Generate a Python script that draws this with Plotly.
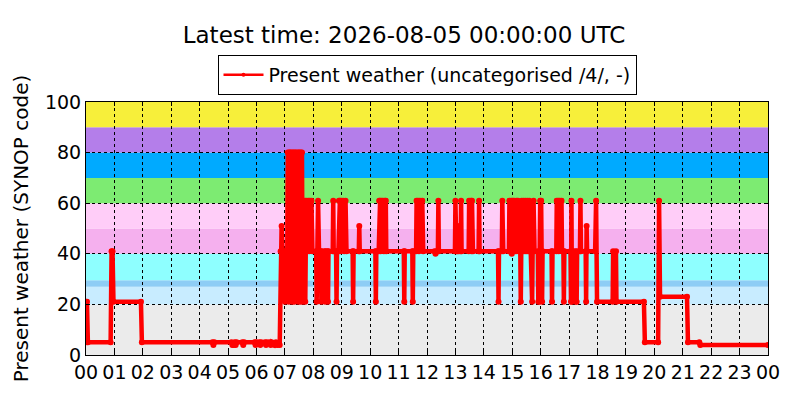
import pandas as pd
import plotly.graph_objects as go

title_text = "Latest time: 2026-08-05 00:00:00 UTC"
series_name = "Present weather (uncategorised /4/, -)"
y_title = "Present weather (SYNOP code)"
day = "2026-08-04"

times = [
    "00:00", "00:02", "00:04", "00:52", "00:54", "00:56", "00:58", "01:56", "01:58",
    "04:27", "04:29", "04:31", "05:07", "05:09", "05:12", "05:14", "05:16", "05:18",
    "05:30", "05:32", "05:34", "05:56", "05:58", "06:00", "06:06", "06:08", "06:10",
    "06:18", "06:20", "06:22", "06:28", "06:30", "06:32", "06:38", "06:41", "06:44",
    "06:49", "06:51", "06:53", "06:55", "06:58", "07:00", "07:02", "07:05",
    "07:06", "07:08", "07:09", "07:11", "07:12", "07:13", "07:15", "07:16", "07:18",
    "07:20", "07:21", "07:23", "07:25", "07:26", "07:28", "07:29", "07:31", "07:33",
    "07:34", "07:36", "07:37", "07:38", "07:39",
    "07:40", "07:42", "07:43", "07:45", "07:49", "07:51", "07:52", "07:56", "07:58",
    "08:06", "08:07", "08:08", "08:10", "08:12", "08:16", "08:17", "08:18", "08:24",
    "08:25", "08:26", "08:30", "08:31", "08:32", "08:41", "08:42", "08:43", "08:48",
    "08:49", "08:50", "08:53", "08:54", "08:56", "08:57", "08:59", "09:03", "09:05",
    "09:08", "09:10", "09:23", "09:24", "09:25", "09:36", "09:37", "09:38",
    "10:11", "10:12", "10:13", "10:18", "10:19", "10:21", "10:22", "10:24", "10:27",
    "10:29", "10:31", "10:33", "10:34", "11:11", "11:12", "11:13", "11:29", "11:30",
    "11:31", "11:37", "11:38", "11:41", "11:43", "11:45", "11:50", "11:52",
    "12:16", "12:18", "12:20", "12:23", "12:24", "12:25", "12:59", "13:00", "13:02",
    "13:04", "13:05", "13:07", "13:11", "13:12", "13:13", "13:28", "13:29", "13:33",
    "13:34", "13:35", "13:37", "13:49", "13:50", "13:51", "14:30", "14:31", "14:32",
    "14:38", "14:39", "14:41", "14:53", "14:54", "14:58", "14:59", "15:01", "15:04",
    "15:05", "15:08", "15:09", "15:12", "15:13", "15:17", "15:18", "15:19", "15:20",
    "15:23", "15:24", "15:27", "15:28", "15:31", "15:32", "15:35", "15:36", "15:39",
    "15:41", "15:42", "15:43", "15:45", "15:47", "15:54", "15:55", "15:57", "15:59",
    "16:01", "16:03", "16:04", "16:23", "16:24", "16:25", "16:33", "16:34", "16:37",
    "16:38", "16:40", "16:44", "16:45", "16:48", "16:49", "16:50", "17:03", "17:04",
    "17:05", "17:06", "17:08", "17:13", "17:14", "17:16", "17:17", "17:23", "17:24",
    "17:25", "17:35", "17:36", "17:37", "17:38", "17:55", "17:57", "17:59",
    "18:32", "18:33", "18:39", "18:40", "19:38", "19:40", "20:08", "20:10", "20:12",
    "21:09", "21:11", "21:35", "21:37", "24:00",
]
values = [
    21, 21, 5, 5, 41, 41, 21, 21, 5,
    5, 4, 5, 5, 4, 4, 5, 4, 5,
    5, 4, 5, 5, 4, 5, 5, 4, 5,
    5, 4, 5, 5, 4, 5, 4, 5, 4,
    4, 41, 51, 41, 41, 21, 41, 41,
    80, 21, 80, 80, 41, 80, 21, 80, 80,
    21, 80, 80, 41, 80, 21, 80, 80, 21,
    80, 80, 41, 21, 41,
    41, 61, 21, 61, 61, 41, 61, 61, 41,
    41, 21, 41, 61, 41, 41, 21, 41, 41,
    21, 41, 41, 21, 41, 41, 61, 41, 41,
    21, 41, 41, 61, 61, 41, 61, 61, 41,
    61, 41, 41, 21, 41, 41, 51, 41,
    41, 21, 41, 41, 61, 61, 41, 61, 61,
    41, 61, 61, 41, 41, 21, 41, 41, 21,
    41, 41, 61, 61, 41, 61, 61, 41,
    41, 40, 41, 41, 61, 41, 41, 61, 41,
    41, 51, 41, 41, 61, 41, 41, 61, 61,
    41, 61, 41, 41, 61, 41, 41, 21, 41,
    41, 61, 41, 41, 61, 61, 40, 61, 61,
    41, 41, 61, 61, 41, 41, 21, 41, 61,
    41, 61, 41, 61, 41, 61, 41, 61, 41,
    41, 21, 41, 61, 41, 41, 21, 21, 61,
    61, 21, 41, 41, 21, 41, 41, 61, 61,
    41, 61, 61, 41, 41, 21, 41, 41, 21,
    61, 21, 41, 41, 21, 21, 41, 41, 61,
    41, 41, 21, 51, 41, 41, 61, 21,
    21, 41, 41, 21, 21, 5, 5, 61, 23,
    23, 5, 5, 4, 4,
]

# background category bands (SYNOP code ranges) and their colours
band_lows = [0, 20, 27, 29.5, 40, 50, 60, 70, 80, 90]
band_highs = [20, 27, 29.5, 40, 50, 60, 70, 80, 90, 100]
band_colors = ["#ebebeb", "#c8ecff", "#8ecdf5", "#8effff", "#f5b0ee",
               "#ffcdf8", "#7deb72", "#00aaff", "#b47eea", "#f7ef3a"]

x_ticks_hours = list(range(0, 25))
x_tick_labels = ["%02d" % (h % 24) for h in x_ticks_hours]

base = pd.Timestamp(day)


def to_ts(s):
    h, m = s.split(":")
    return base + pd.Timedelta(hours=int(h), minutes=int(m))


x = [to_ts(t) for t in times]

fig = go.Figure()
fig.add_trace(go.Scatter(
    x=x, y=values, mode="lines+markers",
    line=dict(color="#ff0000", width=4.5),
    marker=dict(color="#ff0000", size=6),
    showlegend=False,
))
fig.add_trace(go.Scatter(
    x=[None], y=[None], mode="lines+markers", name=series_name,
    line=dict(color="#ff0000", width=2.5),
    marker=dict(color="#ff0000", size=4),
))

shapes = []
for lo, hi, c in zip(band_lows, band_highs, band_colors):
    shapes.append(dict(type="rect", xref="paper", yref="y", x0=0, x1=1, y0=lo, y1=hi,
                       fillcolor=c, line=dict(width=0), layer="below"))

fig.update_layout(
    width=792, height=392,
    margin=dict(l=78, r=32, t=94, b=45, autoexpand=False),
    paper_bgcolor="white", plot_bgcolor="white",
    font=dict(family="DejaVu Sans", color="black", size=19),
    title=dict(text=title_text, x=0.5, xanchor="center", y=0.931, yanchor="middle",
               font=dict(size=23)),
    legend=dict(x=0.5, xanchor="center", y=1.186, yanchor="top", orientation="h",
                bordercolor="black", borderwidth=1, bgcolor="white",
                font=dict(size=19), itemwidth=40),
    shapes=shapes,
)
fig.update_xaxes(
    range=[base, base + pd.Timedelta(hours=24)],
    tickvals=[base + pd.Timedelta(hours=h) for h in x_ticks_hours],
    ticktext=x_tick_labels,
    showgrid=True, gridcolor="black", griddash="dot", gridwidth=1,
    showline=True, linecolor="black", linewidth=1, mirror="ticks",
    ticks="inside", ticklen=4, tickcolor="black",
    tickfont=dict(size=19), zeroline=False, automargin=False,
)
fig.update_yaxes(
    range=[0, 100], tickvals=[0, 20, 40, 60, 80, 100],
    showgrid=True, gridcolor="black", griddash="dot", gridwidth=1,
    showline=True, linecolor="black", linewidth=1, mirror="ticks",
    ticks="inside", ticklen=4, tickcolor="black",
    tickfont=dict(size=19), zeroline=False, automargin=False,
    title=dict(text=y_title, font=dict(size=20), standoff=10),
)

fig.write_html("out.html")
